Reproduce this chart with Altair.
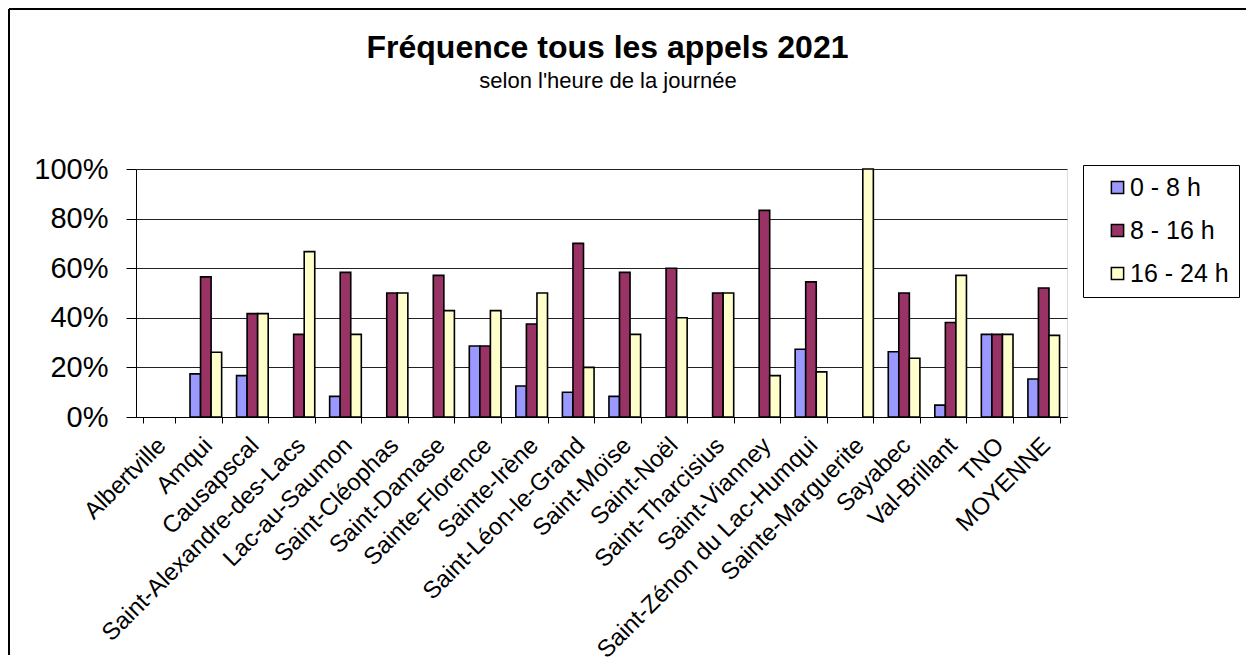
import altair as alt
import pandas as pd

categories = ["Albertville", "Amqui", "Causapscal", "Saint-Alexandre-des-Lacs",
              "Lac-au-Saumon", "Saint-Cléophas", "Saint-Damase", "Sainte-Florence",
              "Sainte-Irène", "Saint-Léon-le-Grand", "Saint-Moïse", "Saint-Noël",
              "Saint-Tharcisius", "Saint-Vianney", "Saint-Zénon du Lac-Humqui",
              "Sainte-Marguerite", "Sayabec", "Val-Brillant", "TNO", "MOYENNE"]
series = ["0 - 8 h", "8 - 16 h", "16 - 24 h"]
h0_8 = [0, 0.174, 0.167, 0, 0.083, 0, 0, 0.286, 0.125, 0.10, 0.083, 0, 0, 0,
        0.273, 0, 0.263, 0.048, 0.333, 0.153]
h8_16 = [0, 0.565, 0.417, 0.333, 0.583, 0.5, 0.571, 0.286, 0.375, 0.70, 0.583, 0.60,
         0.5, 0.833, 0.545, 0, 0.5, 0.381, 0.333, 0.52]
h16_24 = [0, 0.261, 0.417, 0.667, 0.333, 0.5, 0.429, 0.429, 0.5, 0.20, 0.333, 0.40,
          0.5, 0.167, 0.182, 1.0, 0.237, 0.571, 0.333, 0.329]
colors = ["#9999FF", "#993366", "#FFFFCC"]
y_ticks = [0, 0.2, 0.4, 0.6, 0.8, 1.0]
title_text = "Fréquence tous les appels 2021"
subtitle_text = "selon l'heure de la journée"

rows = []
for s, vals in zip(series, [h0_8, h8_16, h16_24]):
    for c, v in zip(categories, vals):
        rows.append({"ville": c, "plage": s, "valeur": v})
df = pd.DataFrame(rows)

FONT = "Liberation Sans"

bars = alt.Chart(df).transform_filter("datum.valeur > 0").mark_bar(
    stroke="black", strokeWidth=1.6
).encode(
    x=alt.X("ville:N", sort=categories, title=None,
            scale=alt.Scale(domain=categories, paddingInner=0.32, paddingOuter=0.16),
            axis=alt.Axis(labelAngle=-45, labelAlign="right", labelBaseline="top",
                          labelFontSize=24, labelFont=FONT, labelColor="black",
                          labelPadding=10, labelOffset=-6, labelLimit=500,
                          tickBand="extent", tickSize=6, tickColor="black",
                          domainColor="black", grid=False, labelOverlap=False)),
    xOffset=alt.XOffset("plage:N", sort=series, scale=alt.Scale(domain=series)),
    y=alt.Y("valeur:Q", title=None, scale=alt.Scale(domain=[0, 1]),
            axis=alt.Axis(format="%", values=y_ticks, labelFontSize=29, labelFont=FONT,
                          labelColor="black", labelPadding=18, tickSize=10,
                          tickColor="black", domainColor="black", gridColor="#222222",
                          gridWidth=1)),
    color=alt.Color("plage:N", sort=series,
                    scale=alt.Scale(domain=series, range=colors),
                    legend=alt.Legend(title=None, orient="none", legendX=947, legendY=-4,
                                      symbolType="square", symbolSize=150,
                                      symbolStrokeColor="black", symbolStrokeWidth=1.5,
                                      labelFontSize=25, labelFont=FONT, labelColor="black",
                                      strokeColor="black", fillColor="white",
                                      padding=10, rowPadding=17, symbolOffset=12,
                                      labelOffset=0)),
)

frame_df = pd.DataFrame({"k": [0]})
left_line = alt.Chart(frame_df).mark_rule(color="black", strokeWidth=2).encode(
    x=alt.value(-127), y=alt.value(-160), y2=alt.value(486))
top_line = alt.Chart(frame_df).mark_rule(color="black", strokeWidth=2).encode(
    x=alt.value(-127), x2=alt.value(1110), y=alt.value(-160))
title_mark = alt.Chart(frame_df).mark_text(
    text=title_text, font=FONT, fontSize=32, fontWeight="bold", color="black",
    align="center", baseline="alphabetic"
).encode(x=alt.value(471.5), y=alt.value(-111))
subtitle_mark = alt.Chart(frame_df).mark_text(
    text=subtitle_text, font=FONT, fontSize=22, color="black",
    align="center", baseline="alphabetic"
).encode(x=alt.value(472), y=alt.value(-81))

chart = alt.layer(left_line, top_line, title_mark, subtitle_mark, bars).properties(
    width=931, height=248, padding=0,
).configure_view(stroke="black", strokeWidth=1).configure(background="white")

chart.save("out.html", embed_options={"renderer": "svg", "actions": False})
